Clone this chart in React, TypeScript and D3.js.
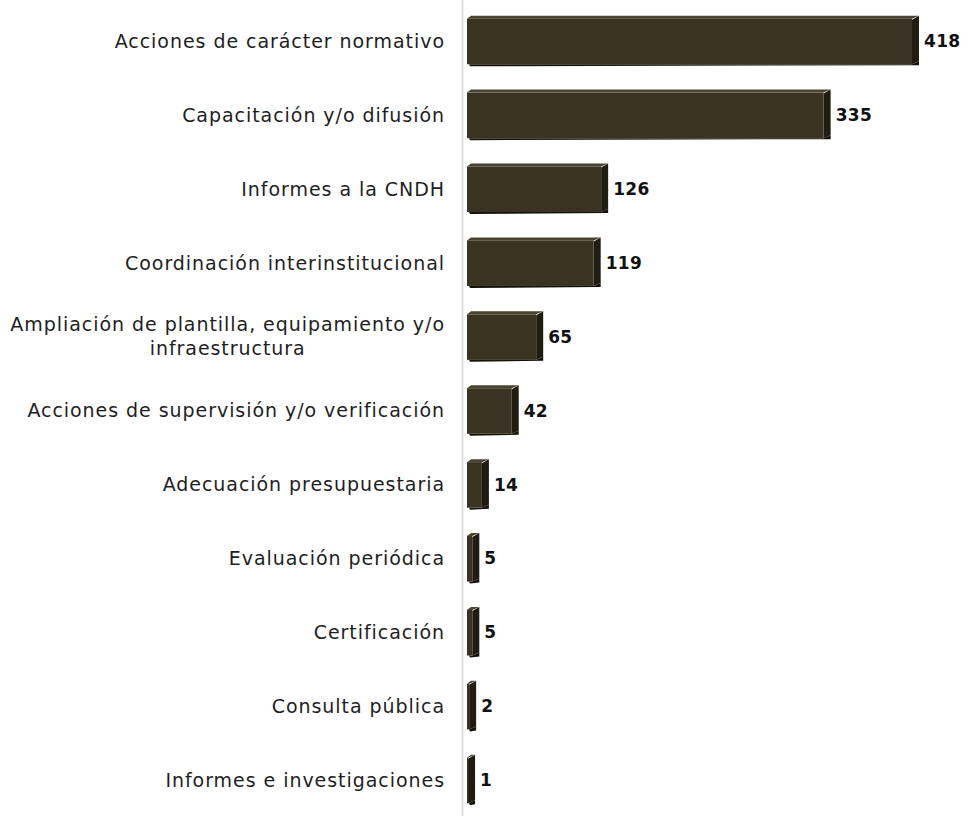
import React, { useEffect, useRef } from 'react';
import * as d3 from 'd3';

const categories: string[][] = [
  ['Acciones de carácter normativo'],
  ['Capacitación y/o difusión'],
  ['Informes a la CNDH'],
  ['Coordinación interinstitucional'],
  ['Ampliación de plantilla, equipamiento y/o', 'infraestructura'],
  ['Acciones de supervisión y/o verificación'],
  ['Adecuación presupuestaria'],
  ['Evaluación periódica'],
  ['Certificación'],
  ['Consulta pública'],
  ['Informes e investigaciones'],
];
const values: number[] = [418, 335, 126, 119, 65, 42, 14, 5, 5, 2, 1];

const WIDTH = 975;
const HEIGHT = 816;

const App: React.FC = () => {
  const svgRef = useRef<SVGSVGElement>(null);

  useEffect(() => {
    if (!svgRef.current) return;
    const svg = d3.select(svgRef.current);
    svg.selectAll('*').remove();

    const keys = categories.map((c) => c.join(' '));
    const x0 = 467;
    const x = d3.scaleLinear().domain([0, 418]).range([x0, 912]);
    const y = d3.scaleBand().domain(keys).range([4, 817]).paddingInner(0.37).paddingOuter(0.185);

    const font = '"DejaVu Sans", Verdana, sans-serif';

    // axis line
    svg.append('line')
      .attr('x1', 462.5).attr('x2', 462.5)
      .attr('y1', 0).attr('y2', HEIGHT)
      .attr('stroke', '#d4d4d4').attr('stroke-width', 1.5);

    const depth = 7;
    const rows = svg.append('g');

    keys.forEach((k, i) => {
      const v = values[i];
      const top = y(k)!;
      const h = y.bandwidth();
      const xe = x(v);
      const g = rows.append('g');

      // bottom shadow edge
      g.append('path')
        .attr('d', `M${x0 + 2},${top + h} L${xe},${top + h} L${xe + depth},${top + h - 3} L${xe + depth},${top + h + 1} L${x0 + 3},${top + h + 2} Z`)
        .attr('fill', '#15120b');

      // side face
      g.append('path')
        .attr('d', `M${xe},${top + 2} L${xe + depth},${top - 2} L${xe + depth},${top + h - 3} L${xe},${top + h} Z`)
        .attr('fill', '#211c11');

      // front face
      g.append('rect')
        .attr('x', x0).attr('y', top + 1)
        .attr('width', Math.max(xe - x0, 1)).attr('height', h - 1)
        .attr('fill', '#3a3323');

      // top edge
      g.append('path')
        .attr('d', `M${x0},${top + 1} L${xe},${top + 1} L${xe + depth},${top - 2} L${x0 + 4},${top - 2} Z`)
        .attr('fill', '#4a4332');

      // value label
      g.append('text')
        .attr('x', xe + depth + 5)
        .attr('y', top + h / 2)
        .attr('dy', '0.36em')
        .attr('font-family', font)
        .attr('font-size', 17)
        .attr('font-weight', 'bold')
        .attr('letter-spacing', 0.3)
        .attr('fill', '#111')
        .text(d3.format('d')(v));

      // category label
      const lines = categories[i];
      const lh = 24;
      const cy = top + h / 2;
      const t = g.append('text')
        .attr('font-family', font)
        .attr('font-size', 19)
        .attr('letter-spacing', 0.95)
        .attr('fill', '#1e1e1e');
      const spans = lines.map((ln, j) =>
        t.append('tspan')
          .attr('y', cy + (j - (lines.length - 1) / 2) * lh)
          .attr('dy', '0.36em')
          .text(ln)
      );
      const widths = spans.map((s) => (s.node() as SVGTSpanElement).getComputedTextLength());
      const maxW = Math.max(...widths);
      const right = 445;
      spans.forEach((s) => {
        if (lines.length === 1) s.attr('x', right).attr('text-anchor', 'end');
        else s.attr('x', right - maxW / 2).attr('text-anchor', 'middle');
      });
    });
  }, []);

  return (
    <svg
      ref={svgRef}
      width={WIDTH}
      height={HEIGHT}
      viewBox={`0 0 ${WIDTH} ${HEIGHT}`}
      style={{ position: 'absolute', left: 0, top: 0, background: '#fff' }}
    />
  );
};

export default App;
